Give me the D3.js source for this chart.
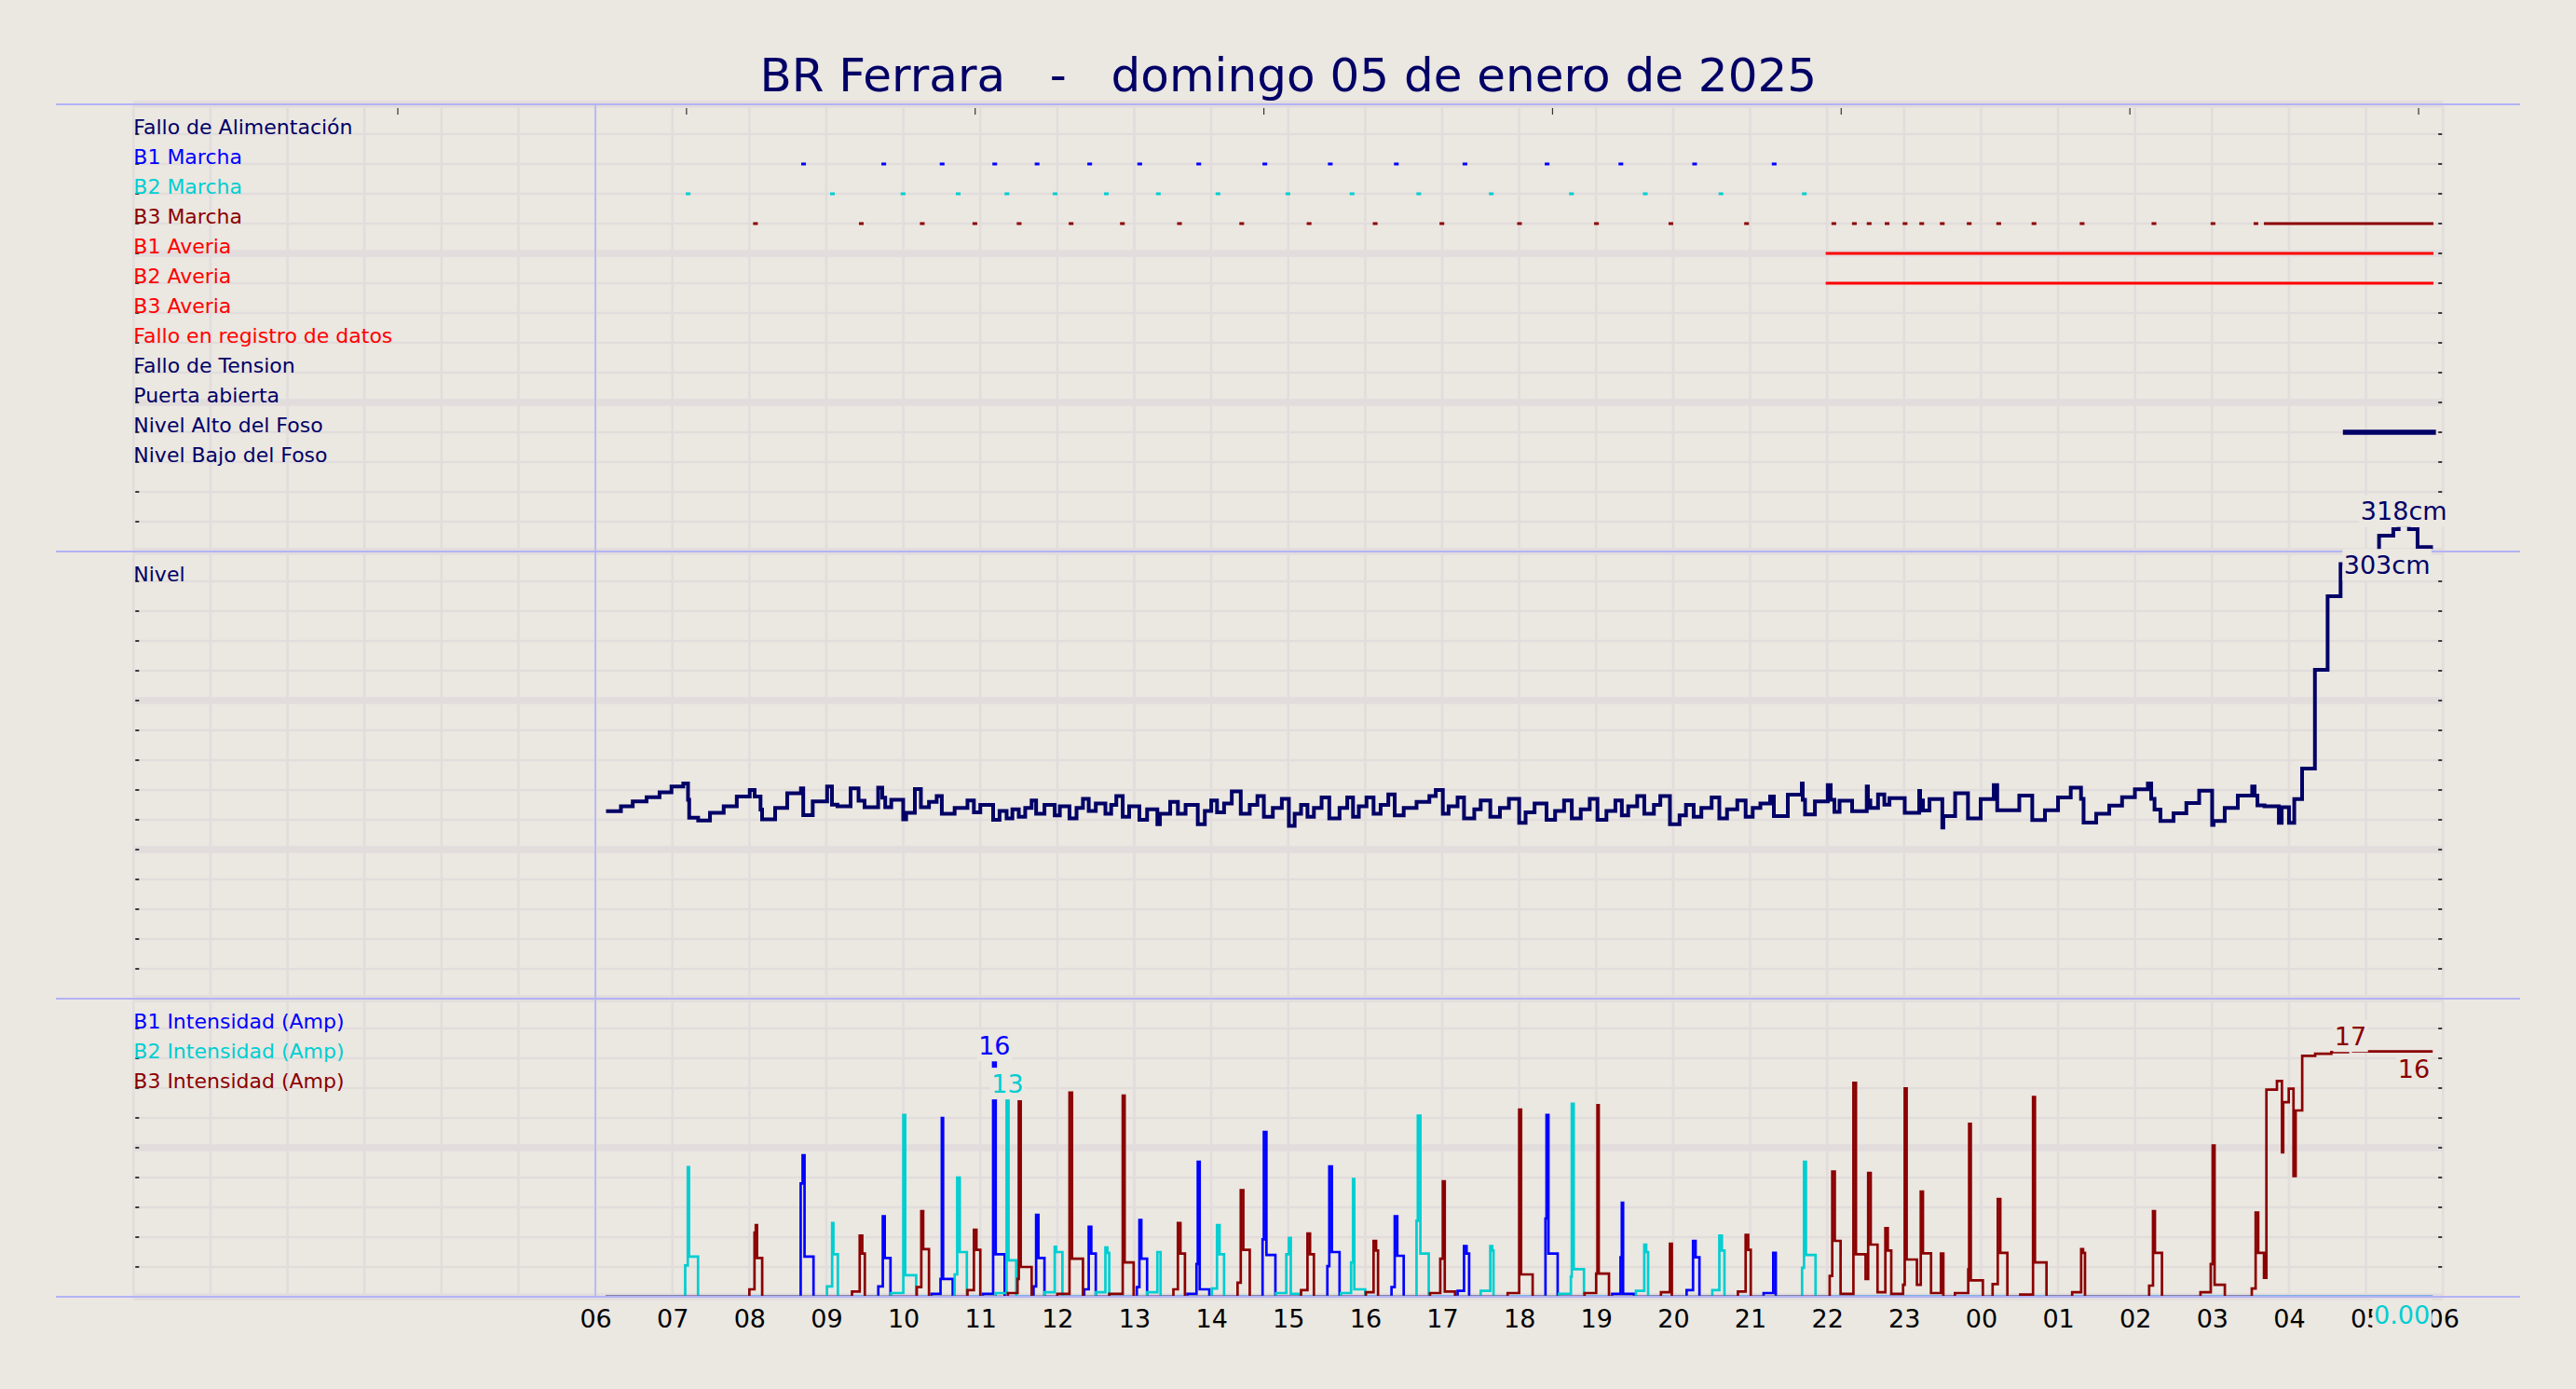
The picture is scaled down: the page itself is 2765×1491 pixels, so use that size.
<!DOCTYPE html>
<html><head><meta charset="utf-8">
<script src="https://cdn.jsdelivr.net/npm/d3@7"></script>
<style>
html,body{margin:0;padding:0;background:#ebe7e1;}
svg{display:block;}
text{font-family:"DejaVu Sans",sans-serif;}
</style></head><body>
<svg id="chart" width="2765" height="1491"></svg>
<script>
// ---------------- DATA (times in minutes from 00:00 of 05-01-2025) ----------------
const titleText = "BR Ferrara   -   domingo 05 de enero de 2025";
const xTickMinutes = [360,420,480,540,600,660,720,780,840,900,960,1020,1080,1140,1200,1260,1320,1380,1440,1500,1560,1620,1680,1740,1800];
const xTickLabels = ["06","07","08","09","10","11","12","13","14","15","16","17","18","19","20","21","22","23","00","01","02","03","04","05","06"];
const topTickMinutes = [206,431,656,881,1106,1331,1556,1781];

const signalLabels = ["Fallo de Alimentación","B1 Marcha","B2 Marcha","B3 Marcha","B1 Averia","B2 Averia","B3 Averia","Fallo en registro de datos","Fallo de Tension","Puerta abierta","Nivel Alto del Foso","Nivel Bajo del Foso"];
const signalColors = ["#000066","#0000ff","#00ced1","#8b0000","#ff0000","#ff0000","#ff0000","#ff0000","#000066","#000066","#000066","#000066"];

const falloAlimentacion = [];
const b1Marcha = [[521.5,523],[584,585.5],[629.5,631],[670.5,672],[703.5,705],[744.5,746],[783.5,785],[829.5,831],[881,882.5],[932,933.5],[983.5,985],[1037,1038.5],[1101,1102.5],[1158.5,1160],[1216,1217.5],[1278,1279.5]];
const b2Marcha = [[431.5,433],[544,545.5],[599,600.5],[642,643.5],[680,681.5],[717.5,719],[757.5,759],[798,799.5],[844.5,846],[899,900.5],[949,950.5],[1001,1002.5],[1057.5,1059],[1120,1121.5],[1177.5,1179],[1236.5,1238],[1301.5,1303]];
const b3Marcha = [[484,485.5],[566.5,568],[614,615.5],[655,656.5],[689.5,691],[730,731.5],[770,771.5],[814.5,816],[863,864.5],[915.5,917],[967,968.5],[1019,1020.5],[1079.5,1081],[1139.5,1141],[1197.5,1199],[1256.5,1258],[1324.5,1326],[1340.5,1342],[1352,1353.5],[1366,1367.5],[1380,1381.5],[1393,1394.5],[1409,1410.5],[1430,1431.5],[1453,1454.5],[1480.5,1482],[1518,1519.5],[1574,1575.5],[1620,1621.5],[1653.5,1655],[1661.5,1791.5]];
const b1Averia = [[1320,1791.5]];
const b2Averia = [[1320,1791.5]];
const b3Averia = [];
const falloRegistro = [];
const falloTension = [];
const puertaAbierta = [];
const nivelAlto = [[1724,1792.5]];
const nivelBajo = [];
const signalIntervals = [falloAlimentacion,b1Marcha,b2Marcha,b3Marcha,b1Averia,b2Averia,b3Averia,falloRegistro,falloTension,puertaAbierta,nivelAlto,nivelBajo];

// Nivel (cm)
const nivel = [[368.3,125.8],[379.9,129],[389.1,132.4],[399.9,135.2],[410,138.5],[419.3,142.3],[428.5,144.4],[432.2,133.4],[433.1,121.4],[440.1,119.6],[449.3,124.7],[460,129],[470.2,135.6],[480.3,140],[484.1,135.6],[488.7,126.9],[489.9,120.3],[500.1,128],[509.5,137.8],[520.2,141.1],[522,123.1],[529.4,132.4],[540.6,142.3],[544.4,130.2],[548.7,129],[558.9,141.1],[565.1,132.8],[569.8,128.4],[580.4,141.6],[583.6,134.9],[585.9,128.4],[590.6,133.4],[599.9,120.3],[602.2,124.7],[609,140.7],[613.7,128.4],
[620,132],[626,136],[630,124],[640,128],[650,133],[655,125],[660,130],[670,120],[675,126],[680.5,121],[685,127],[690,122],[695,128],[700,133],[703.5,124],[710,130],[718,123],[722,129],[729.5,121],[735,128],[740,134],[744.5,126],[750,131],[757.5,124],[762,130],[766,136],[771,122],[776,129],[784,120],[790,127],[798,117],[800,124],[808,132],[814,124],[820,130],[829.5,117],[835,126],[840,133],[844.5,125],[850,131],[856,139],[863,124],[870,130],[876,136],[881,122],[888,128],[895,134],[900.5,116],[905,124],[910,130],[915,122],[920,128],[926,135],[932,121],[940,128],[946,135],[950.5,122],[955,129],[961,135],[966.5,124],[972,130],[978,137],[983,123],[990,128],[1000,132],[1010,136],[1015,140],[1020.5,124],[1025,129],[1032,135],[1037,121],[1045,127],[1050,133],[1057.5,122],[1065,128],[1072,134],[1080,118],[1085,125],[1092,131],[1101.3,120],[1108,126],[1115,133],[1121,121],[1128,127],[1135,134],[1141,120],[1148,126],[1155,133],[1160,123],[1165,129],[1172,136],[1177.5,124],[1185,130],[1190,136],[1197.5,117],[1205,123],[1210,130],[1216,122],[1222,128],[1230,135],[1236,121],[1242,127],[1250,133],[1256.5,122],[1262,128],[1268,131],
[1275.6,135.6],[1278.5,122.5],[1289.4,136.8],[1300.3,144.4],[1301,133.4],[1302.8,123.6],[1310.5,132.4],[1320.5,143.3],[1322.8,133.4],[1325.7,125.3],[1329.7,132.8],[1339.5,125.8],[1350.9,142.3],[1351.8,133],[1353.7,128],[1359.7,137],[1364.6,130.2],[1368.6,134.6],[1380.5,124.7],[1391.8,139.4],[1392.5,133],[1394.7,126.2],[1399.8,133.9],[1409.8,114.8],[1410.6,122.5],[1419.8,137.8],[1429.8,120.9],[1439.7,133.9],[1449.9,143.3],[1452.6,126.4],[1469.8,136.2],[1479.9,119.8],[1489.8,126.4],[1500,135],[1509.9,141.6],[1517.9,134],[1519.9,118.1],[1529.7,124.1],[1539.9,129.5],[1549.9,135.2],[1559.9,140.4],[1570,144.4],[1572.6,134],[1575.2,126.9],[1579.8,119.2],[1590,124.4],[1600,131.3],[1610,139.6],[1620.1,116.6],[1621.2,119.2],[1629.9,128],[1640.1,136.2],[1651.3,142.3],[1653.2,136.2],[1655.4,129.7],[1660.9,129],[1672.1,118],[1674.3,128.4],[1677.9,128.4],[1680,118],[1684.1,133.9],[1690.2,154.3],[1700.2,220.7],[1710.1,270],[1720.2,291.5],[1730.1,299],[1750.2,310.6],[1761.3,315],[1765.5,318],[1773.5,315],[1780.2,303],[1792.2,303]];

// Intensidad (A)
const b1Amp = [[368,0],[520,7.6],[521.5,9.5],[523,2.7],[530,0],[580.5,0.7],[584,5.4],[585.5,2.6],[590,0],[622,0.2],[629,1.2],[630,12],[631,1.2],[638.5,0],[662,0.2],[670,15.95],[672,2.85],[679,0],[701.5,0.7],[703.5,5.5],[705.3,2.6],[710,0],[741,0.5],[744.5,4.7],[746.5,2.9],[750,0],[782,0.65],[784,5.15],[785.5,2.55],[790,0],[821.5,0.2],[828.5,2.2],[829.5,9.05],[831,0.5],[838.5,0],[880,3.85],[881,11.05],[883,2.8],[890,0],[930.5,2.05],[932,8.75],[934,3.0],[940,0],[980.5,0.65],[983,5.4],[985,2.75],[990,0],[1032,0.4],[1037,3.4],[1039,2.9],[1041,0],[1100.5,5.25],[1101.3,12.2],[1102.8,2.9],[1110,0],[1152.5,0.2],[1159,2.65],[1160,6.3],[1161,0.2],[1169.5,0],[1210.5,0.45],[1215.5,3.75],[1217.5,2.65],[1220.5,0],[1270.5,0.25],[1278,2.95],[1280,0],[1792,0]];
const b2Amp = [[368,0],[430,2.1],[432,8.7],[433,2.7],[440,0],[540.5,0.7],[544.5,4.95],[545.5,2.85],[549,0],[590.5,0.25],[600,12.2],[601.5,1.45],[610,0],[640,1.5],[642,8.0],[644,3.0],[649.5,0],[672,0.25],[680.5,13.4],[682,2.45],[688,0],[710,0.3],[718,3.35],[719,3.0],[724,0],[750,0.3],[757.5,3.3],[759,2.95],[760.5,0],[790,0.3],[798,3.0],[800.5,0],[840.5,0.55],[844.5,4.8],[846.5,2.85],[850,0],[890.5,0.25],[898.5,2.85],[900.5,3.95],[902,0.2],[909,0],[941,0.25],[949,2.3],[950.5,7.9],[951.5,0.5],[960,0],[1000,5.1],[1001,12.15],[1003,2.9],[1009.5,0],[1050,0.4],[1057.5,3.4],[1059,3.1],[1060,0],[1111,0.2],[1120.3,1.35],[1121,12.95],[1122.5,1.85],[1130.5,0],[1171,0.4],[1177.5,3.5],[1179,3.0],[1180.5,0],[1230.5,0.45],[1236,4.1],[1238,3.1],[1240,0],[1300.5,1.95],[1302,9.05],[1303.5,2.8],[1311,0],[1792,0]];
const b3Amp = [[368,0],[480,0.5],[484,4.3],[485,4.8],[486,2.6],[490,0],[560,0.35],[566,4.1],[568,2.9],[570,0],[610.5,0.65],[614,5.75],[615.5,3.2],[620,0],[650,0.45],[655,4.5],[657,3.15],[660,0],[681.5,0.25],[689,1.2],[690,13.1],[691.5,2.0],[700,0],[720,0.2],[729.5,13.7],[731.5,2.55],[740,0],[760.5,0.2],[771,13.5],[772.5,2.3],[779.5,0],[810.5,0.5],[814,4.95],[816,2.9],[819.5,0],[860.5,0.95],[863,7.15],[865,3.15],[870,0],[910,0.45],[915,4.25],[917,2.85],[920,0],[960.5,0.3],[966.5,3.75],[968.5,3.1],[970,0],[1010.5,0.25],[1018.5,2.55],[1020.5,7.75],[1022,0.35],[1030,0],[1071,0.25],[1080,12.55],[1081.5,1.5],[1090.5,0],[1131,0.25],[1140,1.55],[1141,12.85],[1142,1.55],[1150,0],[1190.5,0.3],[1197.5,3.55],[1199,0],[1250.5,0.35],[1256.5,4.15],[1258.5,3.15],[1260.5,0],[1322,1.4],[1324,8.4],[1326,3.75],[1330.5,0.2],[1340.5,14.35],[1342.5,2.85],[1350,1.2],[1352,8.3],[1354,3.5],[1359.3,0.3],[1365.4,4.6],[1367.3,3.1],[1370,0.2],[1379.2,0.8],[1380.5,13.98],[1382,2.5],[1390,0.8],[1393,7.05],[1394.7,2.92],[1401,0.25],[1408.7,2.9],[1410.6,0],[1419.6,0.25],[1430,1.83],[1430.7,11.6],[1432,1.1],[1441.4,0],[1449,0.85],[1453,6.55],[1455,2.95],[1460.5,0],[1470.5,0.15],[1480.5,13.4],[1482,2.3],[1491,0],[1511,0.3],[1518,3.2],[1519.5,2.95],[1521,0],[1571,0.75],[1574,5.75],[1575.5,2.95],[1581,0],[1611,0.3],[1619,2.2],[1620.5,10.15],[1622,0.8],[1630,0],[1651,0.55],[1654,5.65],[1656,2.95],[1660.5,1.27],[1662.4,13.9],[1670.6,14.48],[1674.5,9.7],[1675.5,13.06],[1679.8,13.96],[1683.5,8.1],[1685.2,12.5],[1690.3,16.17],[1700.4,16.31],[1713,16.42],[1726,16.58],[1730,16.46],[1792,16.46]];

const ampLabels = ["B1 Intensidad (Amp)","B2 Intensidad (Amp)","B3 Intensidad (Amp)"];
const ampColors = ["#0000ff","#00ced1","#8b0000"];
const ampSeries = [b1Amp,b2Amp,b3Amp];

// ---------------- STYLE / LAYOUT ----------------
const BG = "#ebe7e1", GRID = "#e2dddc", SEP = "#b3b3f5", NAVY = "#000066";
const svg = d3.select("#chart");
svg.append("rect").attr("width",2765).attr("height",1491).attr("fill",BG);

const x = d3.scaleLinear().domain([0,1800]).range([143.3,2622.2]);
const u = d3.scaleLinear().domain([0,40]).range([1392,112]);   // grid units
const yNivel = d3.scaleLinear().domain([0,300]).range([u(10),u(25)]);
const yAmp = d3.scaleLinear().domain([0,20]).range([u(0),u(10)]);
const rowY = i => u(39 - i);

svg.append("clipPath").attr("id","ampClip").append("rect")
  .attr("x",0).attr("y",0).attr("width",2765).attr("height",yAmp(0)-1.1);

// grid
const grid = svg.append("g");
d3.range(0,41).forEach(k=>{
  grid.append("line").attr("x1",x(0)).attr("x2",x(1800)).attr("y1",u(k)).attr("y2",u(k))
    .attr("stroke",GRID).attr("stroke-width",k%5===0?7.5:2.6);
});
d3.range(0,1801,60).forEach(m=>{
  grid.append("line").attr("x1",x(m)).attr("x2",x(m)).attr("y1",u(40)).attr("y2",u(0))
    .attr("stroke",GRID).attr("stroke-width",2.6);
});
// y ticks left/right
const tk = svg.append("g");
d3.range(0,41).forEach(k=>{
  tk.append("line").attr("x1",x(0)+2).attr("x2",x(0)+6).attr("y1",u(k)).attr("y2",u(k)).attr("stroke","#111").attr("stroke-width",1.6);
  tk.append("line").attr("x1",x(1800)-5).attr("x2",x(1800)-1).attr("y1",u(k)).attr("y2",u(k)).attr("stroke","#111").attr("stroke-width",1.6);
});
// top ticks
topTickMinutes.forEach(m=>{
  tk.append("line").attr("x1",x(m)).attr("x2",x(m)).attr("y1",u(40)+4).attr("y2",u(40)+11).attr("stroke","#333").attr("stroke-width",1.2);
});

// title
svg.append("text").attr("x",(x(0)+x(1800))/2).attr("y",98).attr("text-anchor","middle")
  .attr("font-size",50).attr("fill",NAVY).style("white-space","pre").text(titleText);

// signal labels
signalLabels.forEach((s,i)=>{
  svg.append("text").attr("x",x(0)).attr("y",rowY(i)).attr("font-size",22).attr("fill",signalColors[i]).text(s);
});
// signal intervals
signalIntervals.forEach((arr,i)=>{
  arr.forEach(iv=>{
    svg.append("line").attr("x1",x(iv[0])).attr("x2",x(iv[1])).attr("y1",rowY(i)).attr("y2",rowY(i))
      .attr("stroke",signalColors[i]).attr("stroke-width",i===10?5.5:3).attr("stroke-linecap","square");
  });
});

// Nivel
svg.append("text").attr("x",x(0)).attr("y",u(24)).attr("font-size",22).attr("fill",NAVY).text("Nivel");
const lineN = d3.line().x(d=>x(d[0])).y(d=>yNivel(d[1])).curve(d3.curveStepAfter);
svg.append("path").attr("d",lineN(nivel)).attr("fill","none").attr("stroke",NAVY).attr("stroke-width",4);

// Intensidad
ampLabels.forEach((s,i)=>{
  svg.append("text").attr("x",x(0)).attr("y",u(9-i)).attr("font-size",22).attr("fill",ampColors[i]).text(s);
});
const ampG = svg.append("g").attr("clip-path","url(#ampClip)");
ampSeries.forEach((ser,i)=>{
  const ln = d3.line().x(d=>x(d[0])).y(d=>yAmp(d[1])).curve(d3.curveStepAfter);
  ampG.append("path").attr("d",ln(ser)).attr("fill","none").attr("stroke",ampColors[i]).attr("stroke-width",2.7);
});

// x tick labels
const xAxis = d3.axisBottom(x).tickValues(xTickMinutes).tickFormat((d,i)=>xTickLabels[i]).tickSize(0);
const xg = svg.append("g").attr("transform","translate(0,1392)").call(xAxis);
xg.select(".domain").remove();
xg.selectAll("text").attr("font-size",27).attr("fill","#000").attr("font-family","DejaVu Sans").attr("dy",null).attr("y",33);

// separators (on top)
[40,25,10,0].forEach(k=>{
  svg.append("line").attr("x1",60).attr("x2",2705).attr("y1",u(k)).attr("y2",u(k)).attr("stroke",SEP).attr("stroke-width",1.8);
});
svg.append("line").attr("x1",x(360)).attr("x2",x(360)).attr("y1",u(40)).attr("y2",u(0)).attr("stroke",SEP).attr("stroke-width",1.6);

// value labels
function boxedText(tx,ty,anchor,str,color){
  const g = svg.append("g");
  const r = g.append("rect").attr("fill",BG);
  const t = g.append("text").attr("x",tx).attr("y",ty).attr("text-anchor",anchor).attr("font-size",27).attr("fill",color).text(str);
  const b = t.node().getBBox();
  r.attr("x",b.x-1.5).attr("y",b.y-1.5).attr("width",b.width+3).attr("height",b.height+3);
}
function valueLabels(data,yS,color,fmt){
  let mi = d3.maxIndex(data,d=>d[1]);
  const mx = mi<data.length-1 ? (x(data[mi][0])+x(data[mi+1][0]))/2 : x(data[mi][0]);
  boxedText(mx, yS(data[mi][1])-5, "middle", fmt(data[mi][1]), color);
  const last = data[data.length-1];
  boxedText(x(last[0])-3, yS(last[1])+28.5, "end", fmt(last[1]), color);
}
valueLabels(nivel,yNivel,NAVY,v=>Math.round(v)+"cm");
const ampFmt = v => v<1 ? v.toFixed(2) : String(Math.round(v));
ampSeries.forEach((ser,i)=>valueLabels(ser,yAmp,ampColors[i],ampFmt));
</script></body></html>
